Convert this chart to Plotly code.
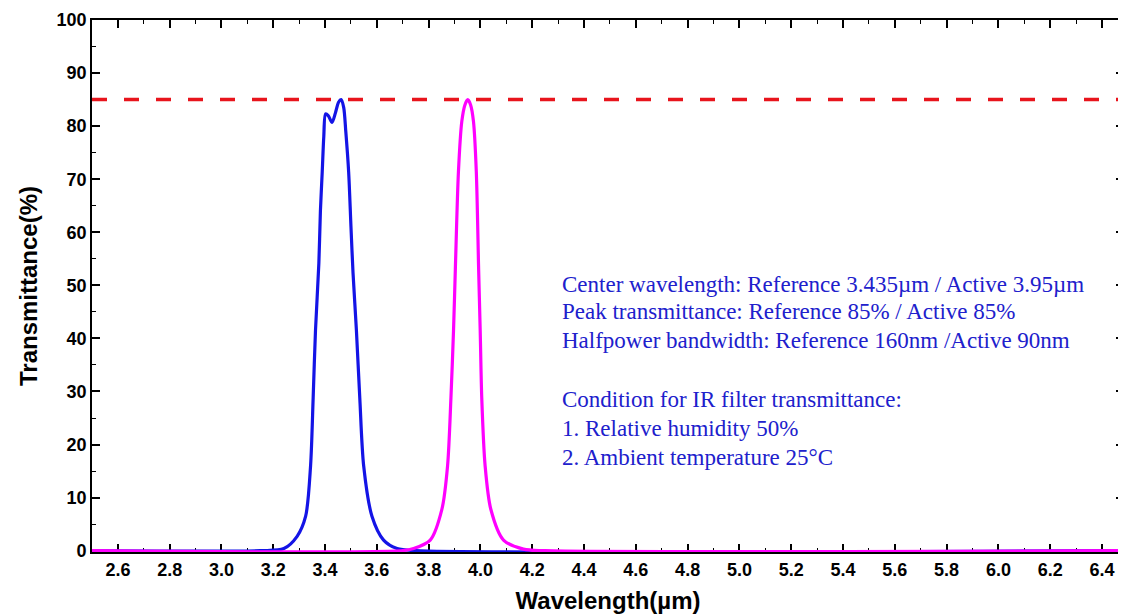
import plotly.graph_objects as go

# Reference filter (blue)
ref_wl = [2.50, 3.15, 3.241, 3.292, 3.325, 3.344, 3.354, 3.363, 3.376, 3.382, 3.389, 3.395,
          3.402, 3.412, 3.427, 3.440, 3.452, 3.462, 3.472, 3.480, 3.491, 3.500, 3.508, 3.521,
          3.534, 3.549, 3.581, 3.626, 3.678, 3.75, 6.50]
ref_T = [0, 0, 0.4, 2.7, 6.5, 16.0, 28.8, 41.5, 54.2, 64.0, 71.4, 78.0,
         82.3, 82.0, 80.7, 82.5, 84.5, 85.0, 83.5, 79.0, 71.4, 61.0, 52.3, 41.5,
         28.8, 16.0, 6.5, 2.0, 0.4, 0, 0]

# Active filter (magenta)
act_wl = [2.50, 3.70, 3.742, 3.806, 3.851, 3.873, 3.886, 3.896, 3.903, 3.915, 3.928, 3.940,
          3.951, 3.962, 3.973, 3.984, 3.993, 3.999, 4.005, 4.018, 4.040, 4.089, 4.166, 4.25, 6.50]
act_T = [0, 0, 0.4, 2.0, 7.8, 16.0, 28.8, 41.5, 53.0, 71.4, 80.9, 84.0,
         85.0, 84.0, 80.9, 71.4, 53.0, 41.5, 28.8, 16.0, 7.8, 2.0, 0.3, 0, 0]

peak_wl = [2.50, 6.50]
peak_T = [85, 85]

x_ticks = [2.6, 2.8, 3.0, 3.2, 3.4, 3.6, 3.8, 4.0, 4.2, 4.4, 4.6, 4.8, 5.0,
           5.2, 5.4, 5.6, 5.8, 6.0, 6.2, 6.4]
y_ticks = [0, 10, 20, 30, 40, 50, 60, 70, 80, 90, 100]

notes = [
    ("Center wavelength: Reference 3.435\u00b5m / Active 3.95\u00b5m", 50.2),
    ("Peak transmittance: Reference 85% / Active 85%", 45.0),
    ("Halfpower bandwidth: Reference 160nm /Active 90nm", 39.7),
    ("Condition for IR filter transmittance:", 28.4),
    ("1. Relative humidity 50%", 23.1),
    ("2. Ambient temperature 25\u00b0C", 17.6),
]
note_x = 4.307

fig = go.Figure()
fig.add_trace(go.Scatter(x=ref_wl, y=ref_T, mode="lines",
                         line=dict(color="#1414e6", width=3.2, shape="spline", smoothing=0.8),
                         showlegend=False))
fig.add_trace(go.Scatter(x=act_wl, y=act_T, mode="lines",
                         line=dict(color="#ff00ff", width=3.2, shape="spline", smoothing=0.8),
                         showlegend=False))
fig.add_trace(go.Scatter(x=peak_wl, y=peak_T, mode="lines",
                         line=dict(color="#e8141c", width=3.5, dash="15px,17px"),
                         showlegend=False))

for txt, yv in notes:
    fig.add_annotation(x=note_x, y=yv, xref="x", yref="y", text=txt, showarrow=False,
                       xanchor="left", yanchor="middle",
                       font=dict(family="Liberation Serif, Times New Roman, serif",
                                 size=23, color="#2020cc"))

axis_font = dict(family="Liberation Sans, Arial, sans-serif", size=18, color="black")
fig.update_xaxes(range=[2.5, 6.485], tickvals=x_ticks,
                 ticktext=[f"<b>{v:.1f}</b>" for v in x_ticks],
                 ticks="inside", ticklen=8, tickwidth=1.5, tickcolor="black",
                 minor=dict(dtick=0.1, tick0=2.5, ticks="inside", ticklen=4, tickwidth=1.2,
                            tickcolor="black"),
                 showline=True, linecolor="black", linewidth=1.8, mirror="ticks",
                 showgrid=False, zeroline=False, layer="below traces", automargin=False,
                 tickfont=axis_font,
                 title=dict(text="<b>Wavelength(\u00b5m)</b>", standoff=14,
                            font=dict(family="Liberation Sans, Arial, sans-serif", size=24,
                                      color="black")))
fig.update_yaxes(range=[-0.25, 100], tickvals=y_ticks,
                 ticktext=[f"<b>{v}</b>" for v in y_ticks],
                 ticks="inside", ticklen=8, tickwidth=1.5, tickcolor="black",
                 minor=dict(dtick=5, tick0=0, ticks="inside", ticklen=4, tickwidth=1.2,
                            tickcolor="black"),
                 showline=True, linecolor="black", linewidth=1.8, mirror="ticks",
                 showgrid=False, zeroline=False, layer="below traces", automargin=False,
                 tickfont=axis_font,
                 title=dict(text="<b>Transmittance(%)</b>", standoff=12,
                            font=dict(family="Liberation Sans, Arial, sans-serif", size=24,
                                      color="black")))

# page body has an 8px margin, so the figure is sized/margined to land the plot box
fig.update_layout(width=1118, height=606, plot_bgcolor="white", paper_bgcolor="white",
                  margin=dict(l=84, r=2, t=12, b=62, autoexpand=False),
                  font=dict(family="Liberation Sans, Arial, sans-serif", color="black"))

fig.write_html("out.html")
